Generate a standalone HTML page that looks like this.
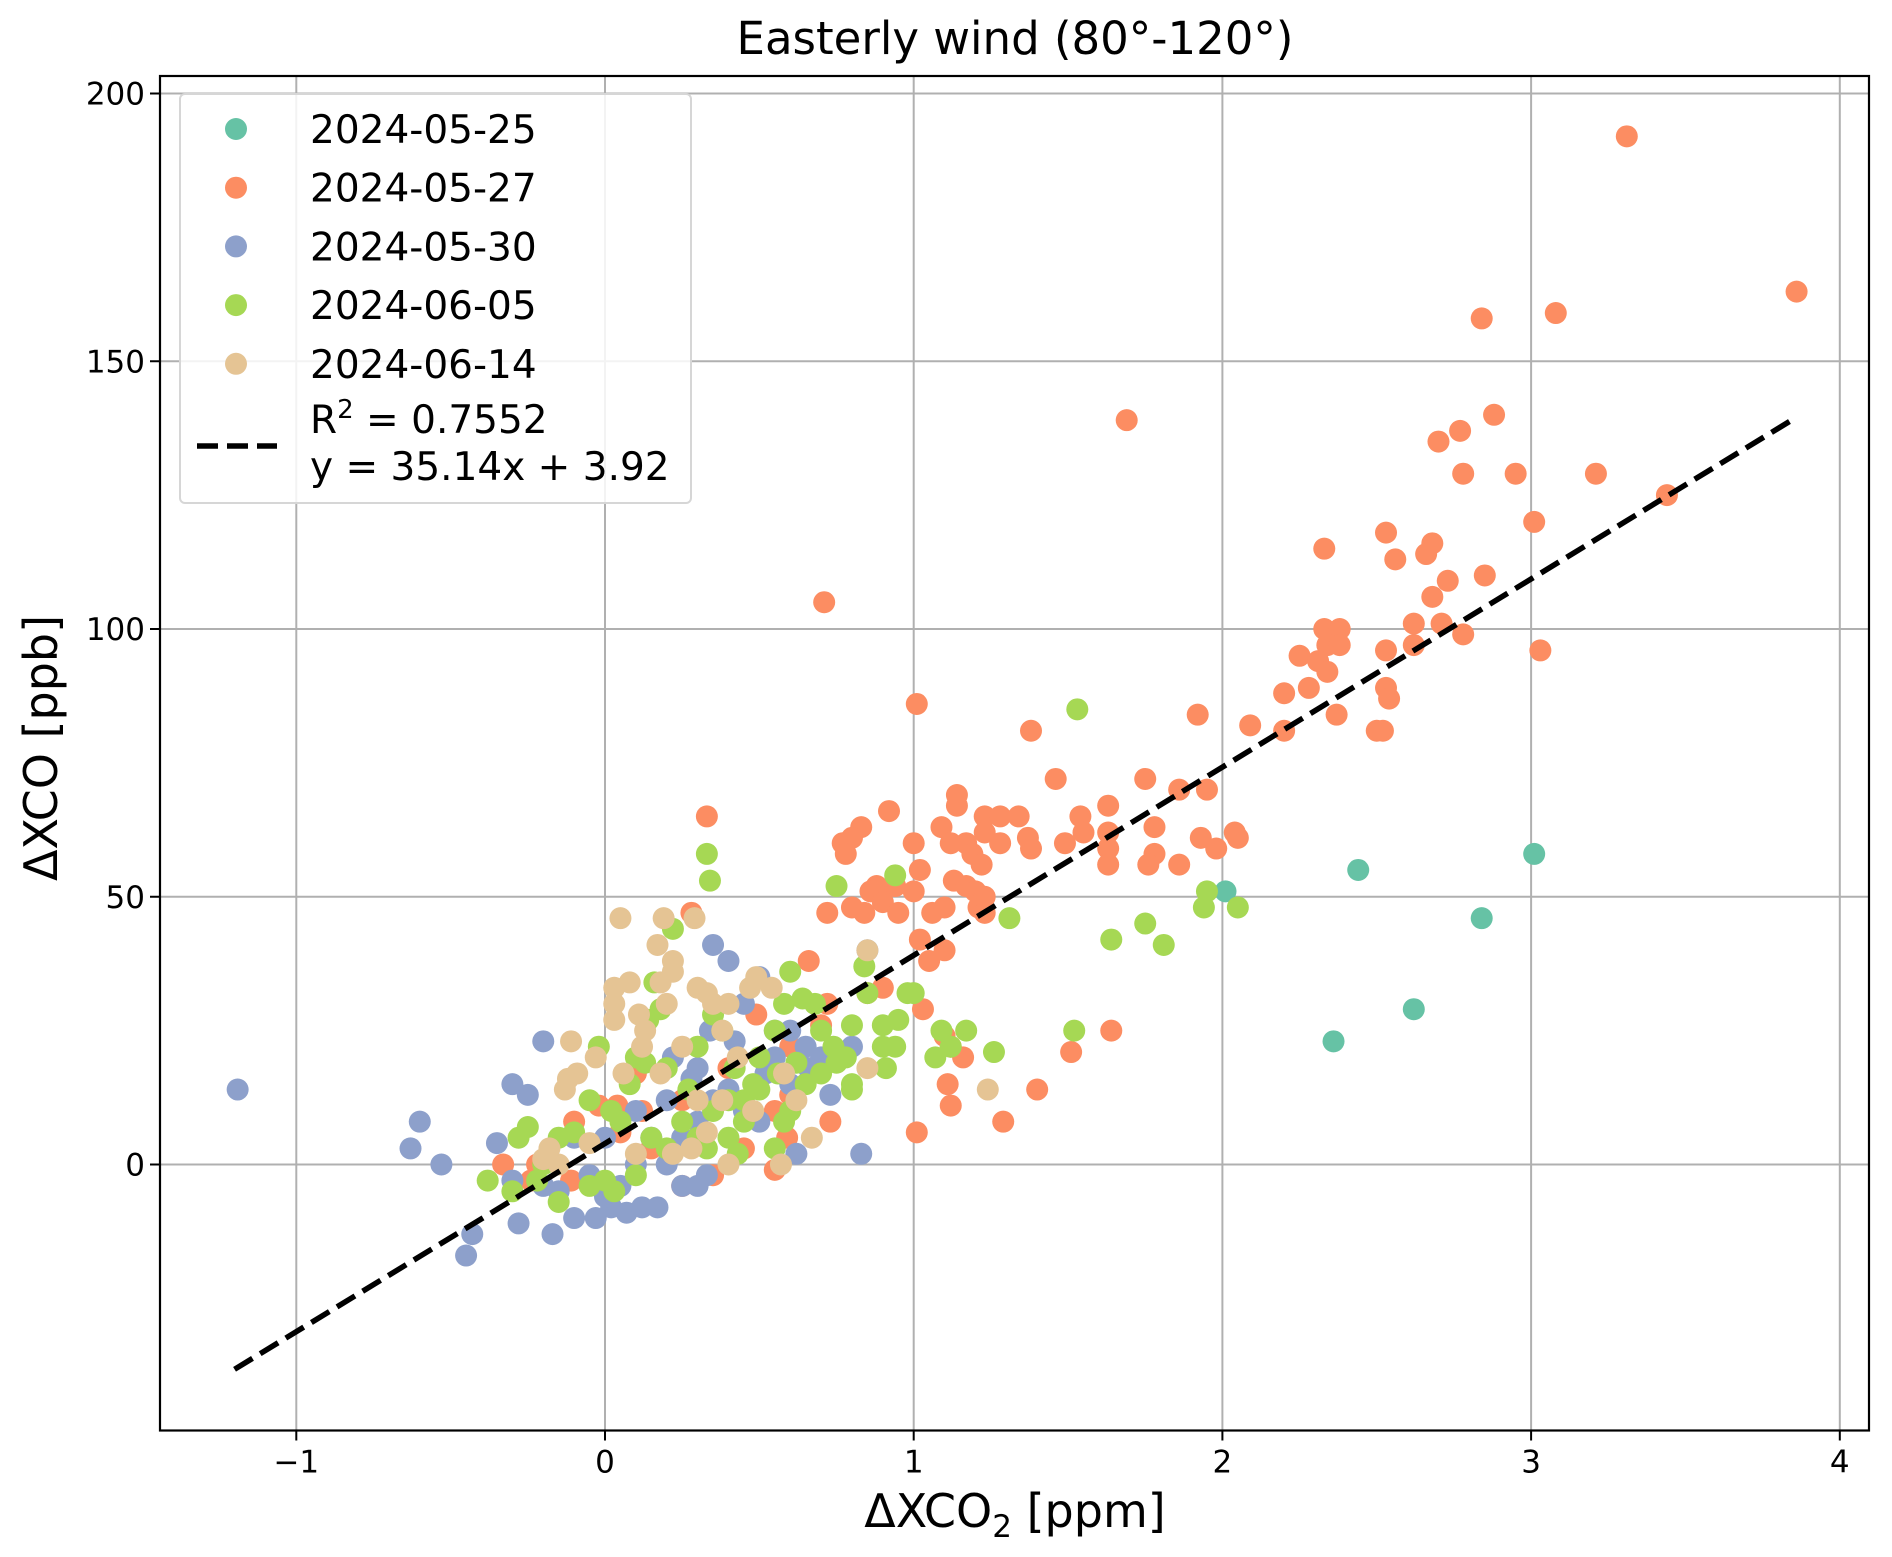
<!DOCTYPE html>
<html><head><meta charset="utf-8"><style>
html,body{margin:0;padding:0;background:#fff;}
svg{display:block;font-family:"DejaVu Sans","Liberation Sans",sans-serif;}
</style></head><body>
<svg id="chart" width="1892" height="1557" viewBox="0 0 1892 1557" xmlns="http://www.w3.org/2000/svg">
<rect x="0" y="0" width="1892" height="1557" fill="#fff"/>
<g id="grid"></g>
<g id="points"></g>
<g id="fit"></g>
<rect x="160" y="76" width="1709" height="1354.5" fill="none" stroke="#000" stroke-width="2.2"/>
<g id="ticks"></g>
<text x="1015" y="54" font-size="45" text-anchor="middle">Easterly wind (80°-120°)</text>
<text x="1015" y="1527" font-size="46" text-anchor="middle">ΔXCO<tspan font-size="31" dy="10">2</tspan><tspan dy="-10"> [ppm]</tspan></text>
<text transform="translate(57,748) rotate(-90)" font-size="46" text-anchor="middle">ΔXCO [ppb]</text>
<g id="legend">
<rect x="180" y="94" width="511" height="409" rx="5" fill="#fff" fill-opacity="0.85" stroke="#d6d6d6" stroke-width="2"/>
</g>
</svg>
<script>
const seriesNames = ["2024-05-25","2024-05-27","2024-05-30","2024-06-05","2024-06-14"];
const seriesColors = ["#66c2a5","#fc8d62","#8da0cb","#a6d854","#e5c494"];
const xTicks = [-1,0,1,2,3,4];
const yTicks = [0,50,100,150,200];
const fitSlope = 35.14;
const fitIntercept = 3.92;
const fitRange = [-1.2, 3.86];
const s0525 = [[2.44,55],[3.01,58],[2.84,46],[2.62,29],[2.36,23],[2.01,51]];
const s0527 = [[3.31,192],[3.86,163],[2.84,158],[3.08,159],[1.69,139],[2.88,140],[2.77,137],[2.70,135],[2.78,129],[2.95,129],[3.21,129],[3.44,125],[3.01,120],[2.53,118],[2.33,115],[2.68,116],[2.56,113],[2.66,114],[2.73,109],[2.85,110],[2.68,106],[0.71,105],[2.62,101],[2.71,101],[2.33,100],[2.38,100],[2.78,99],[2.34,97],[2.38,97],[2.62,97],[2.25,95],[2.31,94],[2.53,96],[3.03,96],[2.34,92],[2.28,89],[2.20,88],[2.53,89],[2.54,87],[1.01,86],[2.37,84],[1.92,84],[2.09,82],[2.20,81],[2.50,81],[2.52,81],[1.38,81],[1.46,72],[1.75,72],[1.86,70],[1.95,70],[1.14,69],[1.14,67],[1.54,65],[1.63,67],[0.92,66],[0.33,65],[1.23,65],[1.28,65],[1.34,65],[1.23,62],[1.78,63],[1.09,63],[1.63,62],[0.83,63],[2.04,62],[2.05,61],[1.93,61],[0.77,60],[0.80,61],[1.00,60],[1.12,60],[1.17,60],[1.28,60],[1.37,61],[1.49,60],[1.55,62],[1.63,59],[1.19,58],[1.38,59],[1.78,58],[1.98,59],[1.76,56],[1.86,56],[1.63,56],[0.78,58],[1.02,55],[1.22,56],[1.13,53],[1.17,52],[1.20,51],[1.23,50],[0.94,52],[0.88,52],[0.86,51],[0.90,49],[1.00,51],[0.72,47],[0.80,48],[0.84,47],[0.95,47],[1.06,47],[1.10,48],[1.21,48],[1.23,47],[0.28,47],[1.02,42],[1.05,38],[1.10,40],[0.66,38],[0.85,32],[0.90,33],[1.03,29],[1.10,24],[1.12,22],[1.16,20],[1.11,15],[1.12,11],[1.40,14],[1.51,21],[1.64,25],[1.01,6],[1.29,8],[0.49,28],[0.73,8],[0.72,30],[0.55,10],[0.60,13],[0.59,5],[0.10,17],[0.12,10],[0.04,11],[-0.02,11],[-0.10,8],[-0.22,0],[-0.33,0],[-0.24,-3],[-0.11,-3],[0.02,-5],[0.25,-4],[0.35,-2],[0.45,3],[0.55,-1],[0.25,12],[0.4,18],[0.6,22],[0.7,26],[0.15,3],[0.05,6]];
const s0530 = [[-1.19,14],[-0.63,3],[-0.60,8],[-0.53,0],[-0.45,-17],[-0.43,-13],[-0.35,4],[-0.30,15],[-0.28,-11],[-0.25,13],[-0.20,23],[-0.17,-13],[-0.10,-10],[-0.03,-10],[0.02,-8],[0.07,-9],[0.12,-8],[0.17,-8],[0.25,-4],[0.3,-4],[0.33,-2],[0.05,-4],[-0.1,5],[-0.05,-2],[0.0,5],[0.1,10],[0.2,12],[0.22,20],[0.30,18],[0.34,25],[0.35,41],[0.40,38],[0.42,23],[0.45,30],[0.5,35],[0.52,17],[0.55,20],[0.6,25],[0.62,2],[0.66,18],[0.7,20],[0.8,22],[0.83,2],[0.85,40],[0.5,8],[0.45,10],[0.4,14],[0.3,8],[0.2,0],[0.15,5],[0.1,0],[-0.15,-5],[-0.2,-4],[-0.3,-3],[0.0,-6],[0.25,5],[0.35,12],[0.6,15],[0.73,13],[0.55,25],[0.65,22],[0.28,16]];
const s0605 = [[1.53,85],[0.33,58],[0.34,53],[0.75,52],[0.94,54],[1.31,46],[1.95,51],[2.05,48],[1.94,48],[1.64,42],[1.75,45],[1.81,41],[1.52,25],[1.26,21],[1.17,25],[1.09,25],[1.12,22],[0.98,32],[0.95,27],[0.9,22],[0.94,22],[0.91,18],[0.85,32],[0.84,37],[0.8,26],[0.78,20],[0.8,15],[0.74,22],[0.7,25],[0.68,30],[0.64,31],[0.6,36],[0.58,30],[0.55,25],[0.5,20],[0.48,15],[0.45,12],[0.42,18],[0.38,25],[0.35,28],[0.3,22],[0.22,44],[0.18,29],[0.16,34],[0.14,27],[0.13,19],[0.10,20],[0.08,15],[0.05,8],[0.02,10],[-0.02,22],[-0.05,12],[-0.1,6],[-0.15,5],[-0.2,0],[-0.25,7],[-0.28,5],[-0.38,-3],[-0.3,-5],[-0.22,-3],[-0.15,-7],[-0.05,-4],[0.0,-3],[0.03,-5],[0.1,-2],[0.15,5],[0.2,3],[0.25,8],[0.3,5],[0.35,10],[0.4,5],[0.45,8],[0.55,3],[0.6,10],[0.65,15],[0.7,17],[0.75,19],[0.8,14],[0.9,26],[1.07,20],[0.5,14],[0.56,17],[0.62,19],[0.4,12],[0.27,14],[0.2,18],[0.33,3],[0.43,2],[1.0,32],[0.58,8]];
const s0614 = [[0.05,46],[0.19,46],[0.29,46],[0.17,41],[0.22,38],[0.22,36],[0.18,34],[0.20,30],[0.03,33],[0.03,30],[0.03,27],[0.08,34],[0.11,28],[0.13,25],[0.12,22],[-0.11,23],[-0.03,20],[-0.09,17],[-0.13,14],[-0.12,16],[0.06,17],[0.18,17],[0.25,22],[0.30,33],[0.33,32],[0.35,30],[0.40,30],[0.47,33],[0.49,35],[0.54,33],[0.85,40],[0.85,18],[0.67,5],[0.57,0],[0.40,0],[0.38,12],[0.33,6],[0.28,3],[0.22,2],[0.10,2],[-0.05,4],[-0.18,3],[-0.20,1],[-0.15,0],[1.24,14],[0.48,10],[0.58,17],[0.62,12],[0.43,20],[0.38,25],[0.30,12]];
const allSeries = [s0525, s0527, s0530, s0605, s0614];

const NS = "http://www.w3.org/2000/svg";
const X0 = 605, XU = 308.7, Y0 = 1164.5, YU = 5.355;
const PL = 160, PR = 1869, PT = 76, PB = 1430.5;
function sx(v){ return X0 + XU*v; }
function sy(v){ return Y0 - YU*v; }
function mk(tag, attrs, parent){ const e = document.createElementNS(NS, tag); for (const k in attrs) e.setAttribute(k, attrs[k]); parent.appendChild(e); return e; }

const grid = document.getElementById('grid');
const ticks = document.getElementById('ticks');
xTicks.forEach(t => {
  const g = mk('line', {x1:sx(t), x2:sx(t), y1:PT, y2:PB, stroke:'#b0b0b0', 'stroke-width':2}, grid);
  
  
  mk('line', {x1:sx(t), x2:sx(t), y1:PB, y2:PB+10, stroke:'#000', 'stroke-width':2}, ticks);
  const lb = mk('text', {x:sx(t), y:PB+42, 'font-size':31, 'text-anchor':'middle'}, ticks);
  lb.textContent = t < 0 ? '\u2212' + Math.abs(t) : String(t);
  
  
});
yTicks.forEach(t => {
  const g = mk('line', {x1:PL, x2:PR, y1:sy(t), y2:sy(t), stroke:'#b0b0b0', 'stroke-width':2}, grid);
  
  
  mk('line', {x1:PL-10, x2:PL, y1:sy(t), y2:sy(t), stroke:'#000', 'stroke-width':2}, ticks);
  const lb = mk('text', {x:PL-15, y:sy(t)+11, 'font-size':31, 'text-anchor':'end'}, ticks);
  lb.textContent = String(t);
  
  
});

const pts = document.getElementById('points');
allSeries.forEach((s, i) => {
  const g = mk('g', {fill: seriesColors[i]}, pts);
  
  
  s.forEach(p => {
    const c = mk('circle', {cx:sx(p[0]), cy:sy(p[1]), r:11}, g);
    
    
  });
});

const fit = document.getElementById('fit');
const fl = mk('line', {x1:sx(fitRange[0]), y1:sy(fitSlope*fitRange[0]+fitIntercept), x2:sx(fitRange[1]), y2:sy(fitSlope*fitRange[1]+fitIntercept), stroke:'#000', 'stroke-width':5.5, 'stroke-dasharray':'21,9'}, fit);



const leg = document.getElementById('legend');
seriesNames.forEach((n, i) => {
  const y = 129 + 58.7*i;
  const c = mk('circle', {cx:236, cy:y, r:11}, leg);
  c.setAttribute('fill', seriesColors[i]);
  
  
  const t = mk('text', {x:310, y:y+14, 'font-size':39}, leg);
  t.textContent = n;
  
  
});
const ll = mk('line', {x1:197, x2:277, y1:446, y2:446, stroke:'#000', 'stroke-width':5.5, 'stroke-dasharray':'21,9'}, leg);


const t1 = mk('text', {x:310, y:433, 'font-size':39}, leg);
t1.innerHTML = 'R<tspan font-size="26" dy="-15">2</tspan><tspan dy="15"> = 0.7552</tspan>';


const t2 = mk('text', {x:310, y:480, 'font-size':39}, leg);
t2.textContent = 'y = 35.14x + 3.92';


</script>
</body></html>
